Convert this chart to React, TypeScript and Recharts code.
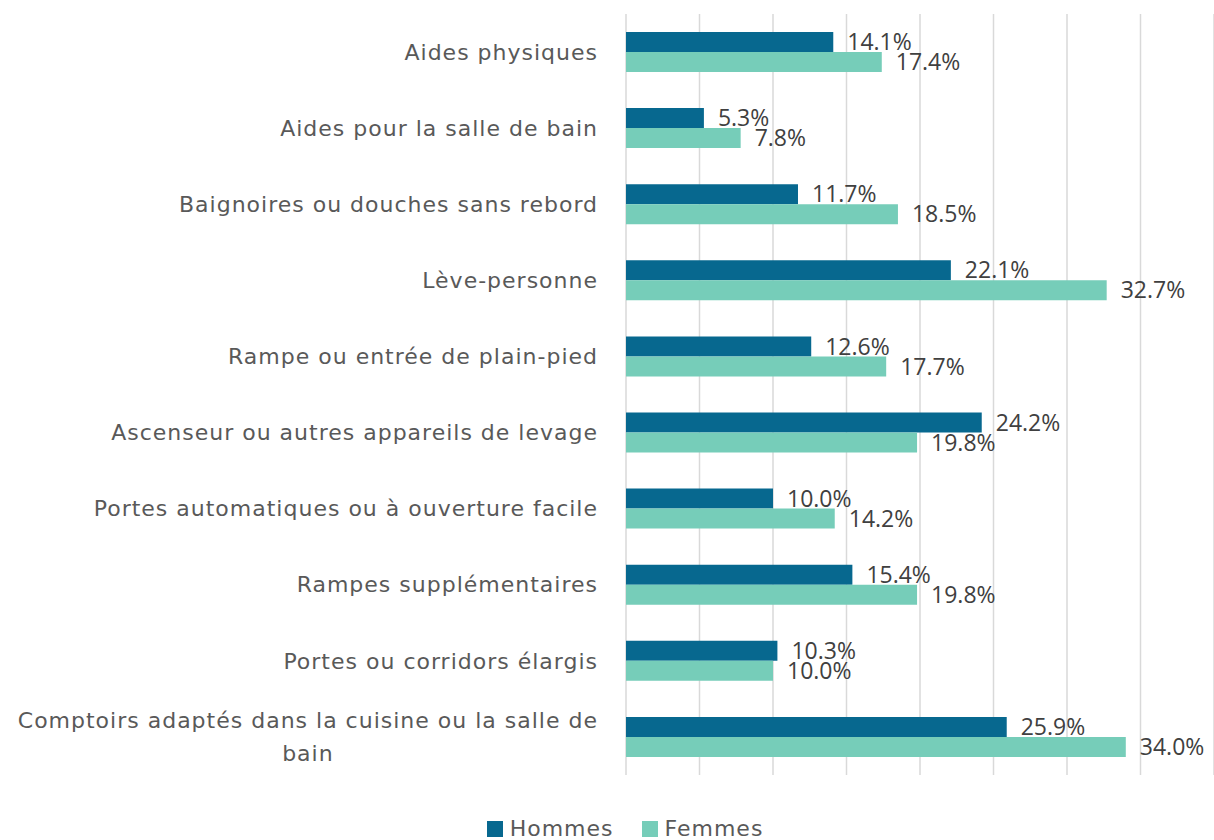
import { Bar, BarChart, CartesianGrid, LabelList, Legend, XAxis, YAxis } from "recharts";

const categories = [
  "Aides physiques",
  "Aides pour la salle de bain",
  "Baignoires ou douches sans rebord",
  "Lève-personne",
  "Rampe ou entrée de plain-pied",
  "Ascenseur ou autres appareils de levage",
  "Portes automatiques ou à ouverture facile",
  "Rampes supplémentaires",
  "Portes ou corridors élargis",
  "Comptoirs adaptés dans la cuisine ou la salle de bain"
];

const hommes = [14.1, 5.3, 11.7, 22.1, 12.6, 24.2, 10.0, 15.4, 10.3, 25.9];
const femmes = [17.4, 7.8, 18.5, 32.7, 17.7, 19.8, 14.2, 19.8, 10.0, 34.0];

const xTicks = [0, 5, 10, 15, 20, 25, 30, 35, 40];

const LABEL_FONT = "'DejaVu Sans', sans-serif";
const LABEL_SIZE = 22;
const LABEL_SPACING = 1;
const VALUE_FONT = "'Open Sans', sans-serif";
const DARK = "#07688f";
const LIGHT = "#76cdb9";

const data = categories.map((name, i) => ({ name, hommes: hommes[i], femmes: femmes[i] }));

let measureCtx: CanvasRenderingContext2D | null = null;
function textWidth(text: string) {
  if (!measureCtx) measureCtx = document.createElement("canvas").getContext("2d");
  if (!measureCtx) return text.length * 13;
  measureCtx.font = `${LABEL_SIZE}px ${LABEL_FONT}`;
  return measureCtx.measureText(text).width + text.length * LABEL_SPACING;
}

function wrapLabel(text: string, maxWidth: number) {
  const words = text.split(" ");
  const lines: string[] = [];
  let current = "";
  for (const word of words) {
    const next = current ? `${current} ${word}` : word;
    if (current && textWidth(next) > maxWidth) {
      lines.push(current);
      current = word;
    } else {
      current = next;
    }
  }
  if (current) lines.push(current);
  return lines;
}

function CategoryTick(props: any) {
  const { x, y, payload } = props;
  const lines = wrapLabel(String(payload.value), 590);
  const textProps = {
    fill: "#595959",
    fontSize: LABEL_SIZE,
    fontFamily: LABEL_FONT,
    letterSpacing: LABEL_SPACING
  };
  if (lines.length === 1) {
    return (
      <text x={x} y={y} dy="0.35em" textAnchor="end" {...textProps}>
        {lines[0]}
      </text>
    );
  }
  // wrapped labels are centred on their widest line, like the original
  const widest = Math.max(...lines.map(textWidth));
  const cx = x - widest / 2;
  const lineHeight = 33;
  const top = y - ((lines.length - 1) * lineHeight) / 2;
  return (
    <text textAnchor="middle" {...textProps}>
      {lines.map((line, i) => (
        <tspan key={i} x={cx} y={top + i * lineHeight} dy="0.35em">
          {line}
        </tspan>
      ))}
    </text>
  );
}

function formatPct(value: any) {
  return `${Number(value).toFixed(1)}%`;
}

function LegendContent() {
  const items = [
    { label: "Hommes", color: DARK },
    { label: "Femmes", color: LIGHT }
  ];
  return (
    <div style={{ display: "flex", justifyContent: "center", gap: 28, paddingLeft: 36 }}>
      {items.map((item) => (
        <div key={item.label} style={{ display: "flex", alignItems: "center", gap: 7 }}>
          <span style={{ width: 16, height: 16, background: item.color, display: "inline-block" }} />
          <span
            style={{
              fontFamily: LABEL_FONT,
              fontSize: LABEL_SIZE,
              letterSpacing: LABEL_SPACING,
              color: "#595959",
              lineHeight: "28px"
            }}
          >
            {item.label}
          </span>
        </div>
      ))}
    </div>
  );
}

export default function App() {
  return (
    <div style={{ position: "absolute", left: 0, top: 0, width: 1214, height: 840, background: "#fff" }}>
      <BarChart
        width={1214}
        height={840}
        data={data}
        layout="vertical"
        margin={{ top: 14, right: 0, left: 0, bottom: 20 }}
        barGap={0}
      >
        <CartesianGrid stroke="#d9d9d9" strokeWidth={1.5} horizontal={false} />
        <XAxis type="number" domain={[0, 40]} ticks={xTicks} hide />
        <YAxis
          type="category"
          dataKey="name"
          width={626}
          axisLine={false}
          tickLine={false}
          tickSize={0}
          tickMargin={28}
          interval={0}
          tick={<CategoryTick />}
        />
        <Legend
          verticalAlign="bottom"
          height={45}
          content={<LegendContent />}
          wrapperStyle={{ top: 815, bottom: "auto" }}
        />
        <Bar dataKey="hommes" name="Hommes" fill={DARK} barSize={20} isAnimationActive={false}>
          <LabelList
            dataKey="hommes"
            position="right"
            offset={14}
            formatter={formatPct}
            fill="#404040"
            fontSize={23}
            fontFamily={VALUE_FONT}
          />
        </Bar>
        <Bar dataKey="femmes" name="Femmes" fill={LIGHT} barSize={20} isAnimationActive={false}>
          <LabelList
            dataKey="femmes"
            position="right"
            offset={14}
            formatter={formatPct}
            fill="#404040"
            fontSize={23}
            fontFamily={VALUE_FONT}
          />
        </Bar>
      </BarChart>
    </div>
  );
}
